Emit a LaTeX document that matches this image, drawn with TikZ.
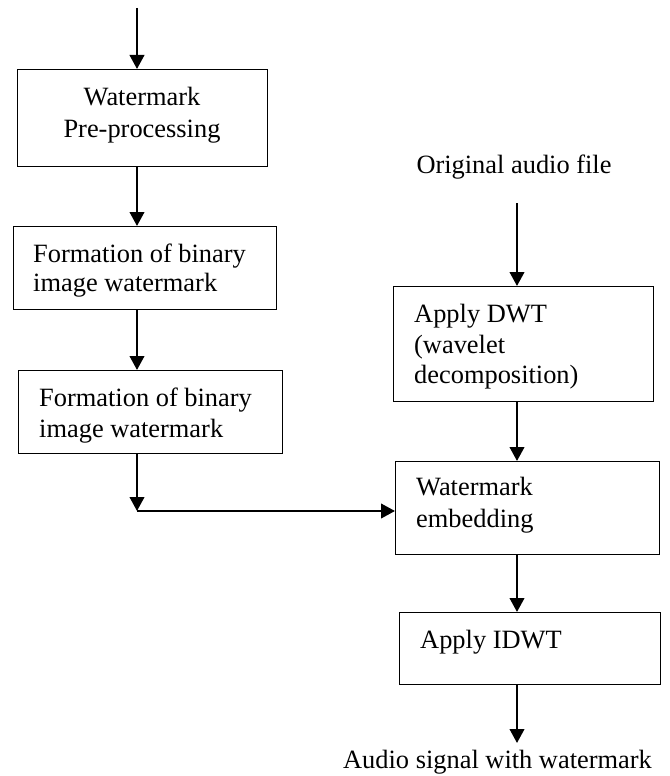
\documentclass[tikz,border=0pt]{standalone}
\usepackage{fontspec}
\setmainfont{Liberation Serif}
\usetikzlibrary{arrows.meta}
\begin{document}
\begin{tikzpicture}[x=1pt,y=-1pt,
  box/.style={draw, line width=1.4pt, inner sep=0pt, anchor=north west},
  arr/.style={line width=2.4pt, -{Triangle[length=14pt,width=14.5pt]}},
  txt/.style={inner sep=0pt, anchor=base west, font=\fontsize{26.4}{31.5}\selectfont},
  ctxt/.style={inner sep=0pt, anchor=base, font=\fontsize{26.4}{31.5}\selectfont}]
\useasboundingbox[fill=white] (0,0) rectangle (669,776);
% boxes
\node[box, minimum width=250pt, minimum height=97pt] (b1) at (17,69) {};
\node[box, minimum width=263pt, minimum height=83pt] (b2) at (13,226) {};
\node[box, minimum width=264pt, minimum height=83pt] (b3) at (18,370) {};
\node[box, minimum width=260pt, minimum height=115pt] (dwt) at (393,286) {};
\node[box, minimum width=264pt, minimum height=93pt] (emb) at (395,461) {};
\node[box, minimum width=261pt, minimum height=72pt] (idwt) at (399,612) {};
% texts
\node[ctxt] (b1t1) at (142,105) {Watermark};
\node[ctxt] (b1t2) at (142,137) {Pre-processing};
\node[txt] (b2t1) at (33,262) {Formation of binary};
\node[txt] (b2t2) at (33,291) {image watermark};
\node[txt] (b3t1) at (39,406) {Formation of binary};
\node[txt] (b3t2) at (39,437) {image watermark};
\node[txt] (dwtt1) at (414,322) {Apply DWT};
\node[txt] (dwtt2) at (414,353) {(wavelet};
\node[txt] (dwtt3) at (414,383) {decomposition)};
\node[txt] (embt1) at (416,495) {Watermark};
\node[txt] (embt2) at (416,527) {embedding};
\node[txt] (idwtt) at (420,648) {Apply IDWT};
\node[ctxt] (orig) at (514,173) {Original audio file};
\node[ctxt] (out) at (497.5,768) {Audio signal with watermark};
% guide coordinates
\coordinate (lx) at (137,0);
\coordinate (rx) at (517,0);
\coordinate (top) at (137,8);
\coordinate (corner) at (137,511);
\coordinate (oa) at (517,203);
\coordinate (ob) at (517,743);
% connectors
\draw[arr] (top) -- (b1.north -| lx);
\draw[arr] (b1.south -| lx) -- (b2.north -| lx);
\draw[arr] (b2.south -| lx) -- (b3.north -| lx);
\draw[arr] (b3.south -| lx) -- (corner);
\draw[arr] (corner) -- (emb.west |- corner);
\draw[arr] (oa) -- (dwt.north -| rx);
\draw[arr] (dwt.south -| rx) -- (emb.north -| rx);
\draw[arr] (emb.south -| rx) -- (idwt.north -| rx);
\draw[arr] (idwt.south -| rx) -- (ob);
\end{tikzpicture}
\end{document}
